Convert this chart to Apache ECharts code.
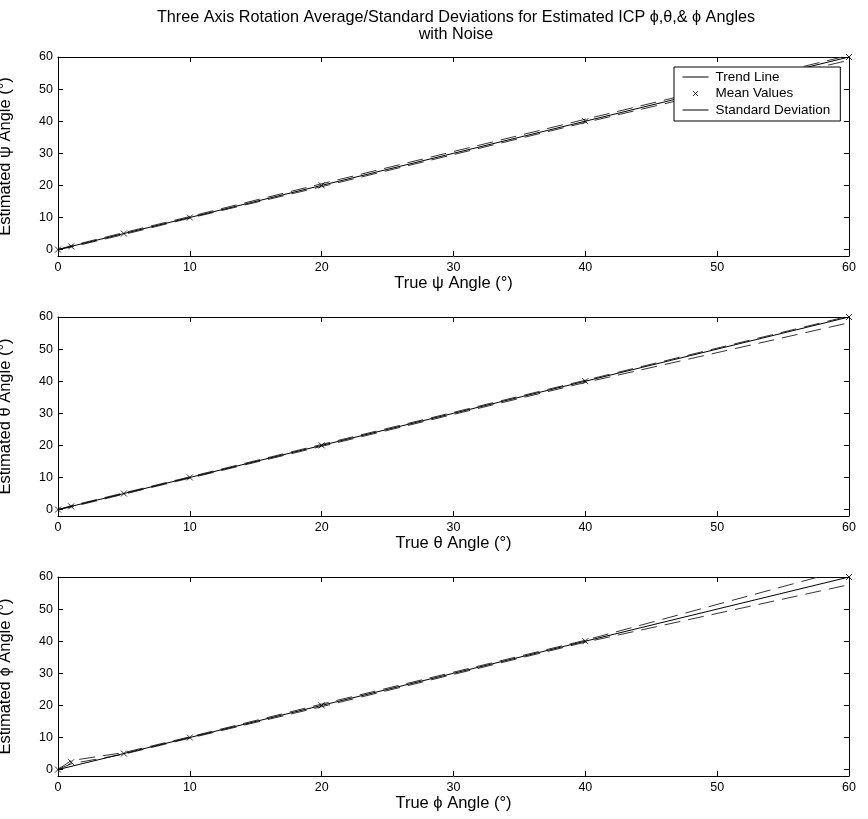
<!DOCTYPE html>
<html>
<head>
<meta charset="utf-8">
<script src="https://cdn.jsdelivr.net/npm/echarts@6/dist/echarts.min.js"></script>
<style>html,body{margin:0;padding:0;background:#fff;}#c{width:868px;height:819px;}</style>
</head>
<body>
<div id="c"></div>
<script>
// ---- data ----
const xTicks = [0, 10, 20, 30, 40, 50, 60];
const yTicks = [0, 10, 20, 30, 40, 50, 60];
const trendX = [0, 60];
const trendY = [0, 60];
const angleX = [0, 1, 5, 10, 20, 40, 60];

const psiMean  = [0, 1.0, 5.0, 10.0, 20.0, 40.0, 60.0];
const psiUpper = [0, 1.2, 5.3, 10.3, 20.5, 40.6, 60.5];
const psiLower = [0, 0.8, 4.7, 9.8, 19.6, 39.6, 59.0];

const thetaMean  = [0, 1.0, 5.0, 10.0, 20.0, 40.0, 60.0];
const thetaUpper = [0, 1.2, 5.2, 10.2, 20.3, 40.3, 60.3];
const thetaLower = [0, 0.8, 4.8, 9.8, 19.7, 39.6, 58.2];

const phiMean  = [0, 2.3, 5.0, 10.0, 20.0, 40.0, 60.0];
const phiUpper = [0, 2.8, 5.3, 10.2, 20.4, 40.3, 62.6];
const phiLower = [0, 1.8, 4.8, 9.8, 19.6, 39.7, 57.6];

const xNames = ['True \u03C8 Angle (\u00B0)', 'True \u03B8 Angle (\u00B0)', 'True \u03D5 Angle (\u00B0)'];
const yNames = ['Estimated \u03C8 Angle (\u00B0)', 'Estimated \u03B8 Angle (\u00B0)', 'Estimated \u03D5 Angle (\u00B0)'];
const panels = [
  {mean: psiMean, upper: psiUpper, lower: psiLower},
  {mean: thetaMean, upper: thetaUpper, lower: thetaLower},
  {mean: phiMean, upper: phiUpper, lower: phiLower}
];

// ---- layout ----
const FONT = '"Liberation Sans", Arial, sans-serif';
const gridTops = [57, 317, 577];
const gridH = 199;

const grids = [], xAxes = [], yAxes = [], series = [];
const pair = (xs, ys) => xs.map((x, i) => [x, ys[i]]);
const axisLine = {show: true, onZero: false, lineStyle: {color: '#000', width: 1}};

panels.forEach((p, i) => {
  grids.push({left: 58, right: 19, top: gridTops[i], height: gridH, show: false,
    containLabel: false, outerBoundsMode: 'none'});
  const xBase = {
    gridIndex: i, type: 'value', min: 0, max: 60, interval: 10,
    axisLine: axisLine, splitLine: {show: false},
    axisTick: {show: true, inside: true, length: 5, lineStyle: {color: '#000'}}
  };
  xAxes.push(Object.assign({}, xBase, {
    position: 'bottom',
    axisLabel: {color: '#000', fontSize: 12.5, fontFamily: FONT, margin: 5},
    name: xNames[i], nameLocation: 'middle', nameGap: 19,
    nameTextStyle: {color: '#000', fontSize: 16.5, fontFamily: FONT}
  }));
  xAxes.push(Object.assign({}, xBase, {position: 'top', axisLabel: {show: false}}));
  const yBase = {
    gridIndex: i, type: 'value', min: -2, max: 60,
    axisLine: axisLine, splitLine: {show: false},
    axisTick: {show: true, inside: true, length: 5, customValues: yTicks, lineStyle: {color: '#000'}}
  };
  yAxes.push(Object.assign({}, yBase, {
    position: 'left',
    axisLabel: {color: '#000', fontSize: 12.5, fontFamily: FONT, margin: 5, customValues: yTicks},
    name: yNames[i], nameLocation: 'middle', nameGap: 44, nameRotate: 90,
    nameTextStyle: {color: '#000', fontSize: 16.5, fontFamily: FONT}
  }));
  yAxes.push(Object.assign({}, yBase, {position: 'right', axisLabel: {show: false}}));

  const xi = 2 * i, yi = 2 * i;
  series.push({
    name: 'Trend Line', type: 'line', xAxisIndex: xi, yAxisIndex: yi,
    data: pair(trendX, trendY), symbol: 'none', silent: true, color: '#000',
    lineStyle: {color: '#000', width: 1}, z: 3
  });
  series.push({
    name: 'Mean Values', type: 'scatter', xAxisIndex: xi, yAxisIndex: yi,
    data: pair(angleX, p.mean), symbol: 'path://M0,0L10,10M10,0L0,10', symbolSize: 6,
    itemStyle: {color: 'none', borderColor: '#000', borderWidth: 1}, z: 4
  });
  series.push({
    name: 'Standard Deviation', type: 'line', xAxisIndex: xi, yAxisIndex: yi,
    data: pair(angleX, p.upper), symbol: 'none', silent: true, color: '#333',
    lineStyle: {color: '#333', width: 1, type: [16, 8]}, z: 2
  });
  series.push({
    name: 'Standard Deviation', type: 'line', xAxisIndex: xi, yAxisIndex: yi,
    data: pair(angleX, p.lower), symbol: 'none', silent: true, color: '#333',
    lineStyle: {color: '#333', width: 1, type: [16, 8]}, z: 2
  });
});

const chart = echarts.init(document.getElementById('c'), null, {renderer: 'canvas'});
chart.setOption({
  animation: false,
  backgroundColor: '#fff',
  title: {
    text: 'Three Axis Rotation Average/Standard Deviations for Estimated ICP \u03D5,\u03B8,& \u03D5 Angles\nwith Noise',
    left: 451, top: 4, textAlign: 'center',
    textStyle: {color: '#000', fontSize: 16.2, fontWeight: 'normal', fontFamily: FONT, lineHeight: 17}
  },
  legend: {
    left: 674, top: 67, width: 168, orient: 'vertical',
    backgroundColor: '#fff', borderColor: '#000', borderWidth: 1, borderRadius: 0,
    padding: [3, 10, 4, 6], itemGap: 1, itemWidth: 26, itemHeight: 12,
    textStyle: {color: '#000', fontSize: 13.5, fontFamily: FONT, padding: [0, 0, 0, 2]},
    data: [
      {name: 'Trend Line', itemStyle: {opacity: 0}, lineStyle: {color: '#000', width: 1}},
      {name: 'Mean Values', icon: 'path://M0,0M26,12M10.5,3.5L15.5,8.5M15.5,3.5L10.5,8.5',
       itemStyle: {color: 'none', borderColor: '#000', borderWidth: 1}},
      {name: 'Standard Deviation', itemStyle: {opacity: 0}, lineStyle: {type: 'solid', color: '#000', width: 1}}
    ],
    selectedMode: false
  },
  grid: grids,
  xAxis: xAxes,
  yAxis: yAxes,
  series: series
});
</script>
</body>
</html>
